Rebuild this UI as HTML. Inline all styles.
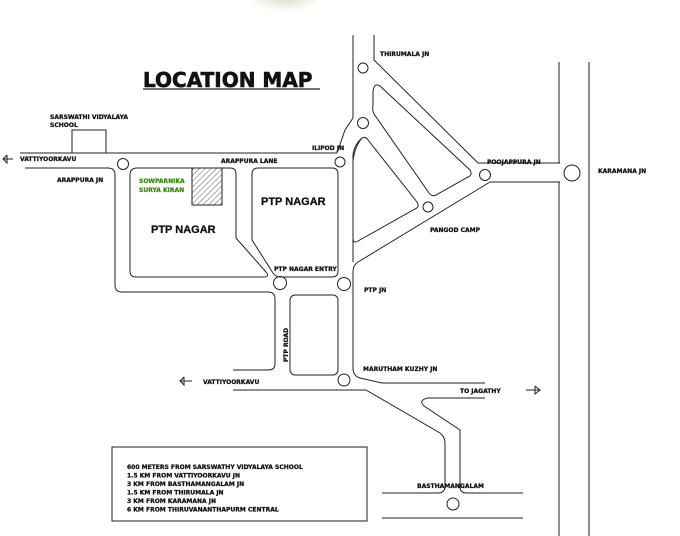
<!DOCTYPE html>
<html><head><meta charset="utf-8"><style>
html,body{margin:0;padding:0;background:#fff;}
svg{display:block;}
text{font-family:"DejaVu Sans","Liberation Sans",sans-serif;font-weight:bold;font-size:6px;fill:#111;stroke:#111;stroke-width:0.25;}
</style></head><body>
<svg width="680" height="536" viewBox="0 0 680 536" xmlns="http://www.w3.org/2000/svg">
<defs>
<pattern id="h" width="4" height="4" patternUnits="userSpaceOnUse" patternTransform="rotate(45)"><line x1="0" y1="0" x2="0" y2="4" stroke="#333" stroke-width="0.8"/></pattern>
<radialGradient id="g" cx="0.5" cy="0.2" r="0.6"><stop offset="0" stop-color="#d8d4b8"/><stop offset="1" stop-color="#fff"/></radialGradient>
</defs>
<ellipse cx="285" cy="3" rx="32" ry="16" fill="url(#g)"/>
<g fill="none" stroke="#222" stroke-width="1">
<line x1="143" y1="89" x2="320" y2="89" stroke-width="1.2"/>
<rect x="72" y="130" width="34" height="23"/>
<line x1="20" y1="153" x2="337" y2="153"/>
<path d="M337 153 L345 130 L353 118 L353 35"/>
<path d="M25 168 L108 168 Q115 168 115 175 L115 285 Q115 292 122 292 L268 292 Q275 292 275 299 L275 364 Q275 370 268 370 L233 370"/>
<path d="M137 168 L230 168 Q236 168 236 174 L236 238 L266 272 Q270 277 264 277 L136 277 Q130 277 130 271 L130 175 Q130 168 137 168 Z"/>
<path d="M258 168 L332 168 Q338 168 338 174 L338 271 Q338 277 332 277 L280 277 Q276 277 273 273 L252 240 L252 174 Q252 168 258 168 Z"/>
<path d="M353 262 L353 155 Q354 145 362 138"/>
<path d="M368 140 L417 202 Q420 207 415 209 L358 241 Q353 244 353 238 L353 160 Q355 146 362 138 Q366 136 368 140 Z"/>
<path d="M380 86 L470 170 Q473 175 468 177 L436 195 Q432 197 429 193 L374 114 Q372 110 373 106 L373 92 Q374 82 380 86 Z"/>
<path d="M374 35 L374 60 L478 163 L560 163"/>
<path d="M490 182 L560 182"/>
<path d="M490 182 L358 262 Q353 265 353 272 L353 368 Q353 376 360 378 L382 383 L485 383"/>
<line x1="559" y1="62" x2="559" y2="163"/>
<line x1="559" y1="182" x2="559" y2="536"/>
<line x1="589" y1="62" x2="589" y2="536"/>
<rect x="290" y="295" width="48" height="80" rx="5"/>
<path d="M233 390 L366 390 L440 433 Q445 437 445 443 L445 486 Q445 493 438 493 L382 493"/>
<path d="M485 398 L428 398 Q418 400 424 406 L460 430 L460 487 Q460 493 467 493 L523 493"/>
<line x1="382" y1="518" x2="523" y2="518"/>
<circle cx="123" cy="164" r="5.5"/>
<circle cx="280" cy="283" r="6.5"/>
<circle cx="344" cy="284" r="6.5"/>
<circle cx="340" cy="162" r="5"/>
<circle cx="363" cy="68" r="5"/>
<circle cx="363" cy="123" r="5.5"/>
<circle cx="428" cy="207" r="5"/>
<circle cx="485" cy="175" r="5.5"/>
<circle cx="572" cy="173" r="8"/>
<circle cx="344" cy="380" r="6"/>
<circle cx="453" cy="504" r="6"/>
<rect x="112" y="447" width="255" height="74"/>
<path d="M3 159 L13 159 M7 155 L3 159 L7 163 L7 155"/>
<path d="M180 381 L192 381 M184 377 L180 381 L184 385 L184 377"/>
<path d="M526 390 L540 390 M535 386 L540 390 L535 394 L535 386"/>
</g>
<rect x="192" y="168" width="30" height="37" fill="url(#h)" stroke="#222" stroke-width="1"/>
<text x="143" y="87" style="font-size:20px;stroke-width:0.6">LOCATION MAP</text>
<text x="50" y="119">SARSWATHI VIDYALAYA</text>
<text x="50" y="127">SCHOOL</text>
<text x="20" y="161">VATTIYOORKAVU</text>
<text x="57" y="182">ARAPPURA JN</text>
<text x="221" y="163">ARAPPURA LANE</text>
<text x="139" y="183" style="fill:#3a8a10;stroke:#3a8a10">SOWPARNIKA</text>
<text x="139" y="192" style="fill:#3a8a10;stroke:#3a8a10">SURYA KIRAN</text>
<text x="151" y="233" style="font-size:11px;font-family:'Liberation Sans',sans-serif;stroke-width:0.3">PTP NAGAR</text>
<text x="261" y="205" style="font-size:11px;font-family:'Liberation Sans',sans-serif;stroke-width:0.3">PTP NAGAR</text>
<text x="312" y="150">ILIPOD JN</text>
<text x="380" y="56">THIRUMALA JN</text>
<text x="487" y="164">POOJAPPURA JN</text>
<text x="598" y="173">KARAMANA JN</text>
<text x="430" y="232">PANGOD CAMP</text>
<text x="274" y="271">PTP NAGAR ENTRY</text>
<text x="364" y="292">PTP JN</text>
<text x="363" y="371">MARUTHAM KUZHY JN</text>
<text x="460" y="393">TO JAGATHY</text>
<text x="203" y="384">VATTIYOORKAVU</text>
<text x="417" y="488">BASTHAMANGALAM</text>
<text transform="translate(288,362) rotate(-90)">PTP ROAD</text>
<text x="127" y="469">600 METERS FROM SARSWATHY VIDYALAYA SCHOOL</text>
<text x="127" y="477.5">1.5 KM FROM VATTIYOORKAVU JN</text>
<text x="127" y="486">3 KM FROM BASTHAMANGALAM JN</text>
<text x="127" y="494.5">1.5 KM FROM THIRUMALA JN</text>
<text x="127" y="503">3 KM FROM KARAMANA JN</text>
<text x="127" y="511.5">6 KM FROM THIRUVANANTHAPURM CENTRAL</text>
</svg>
</body></html>
